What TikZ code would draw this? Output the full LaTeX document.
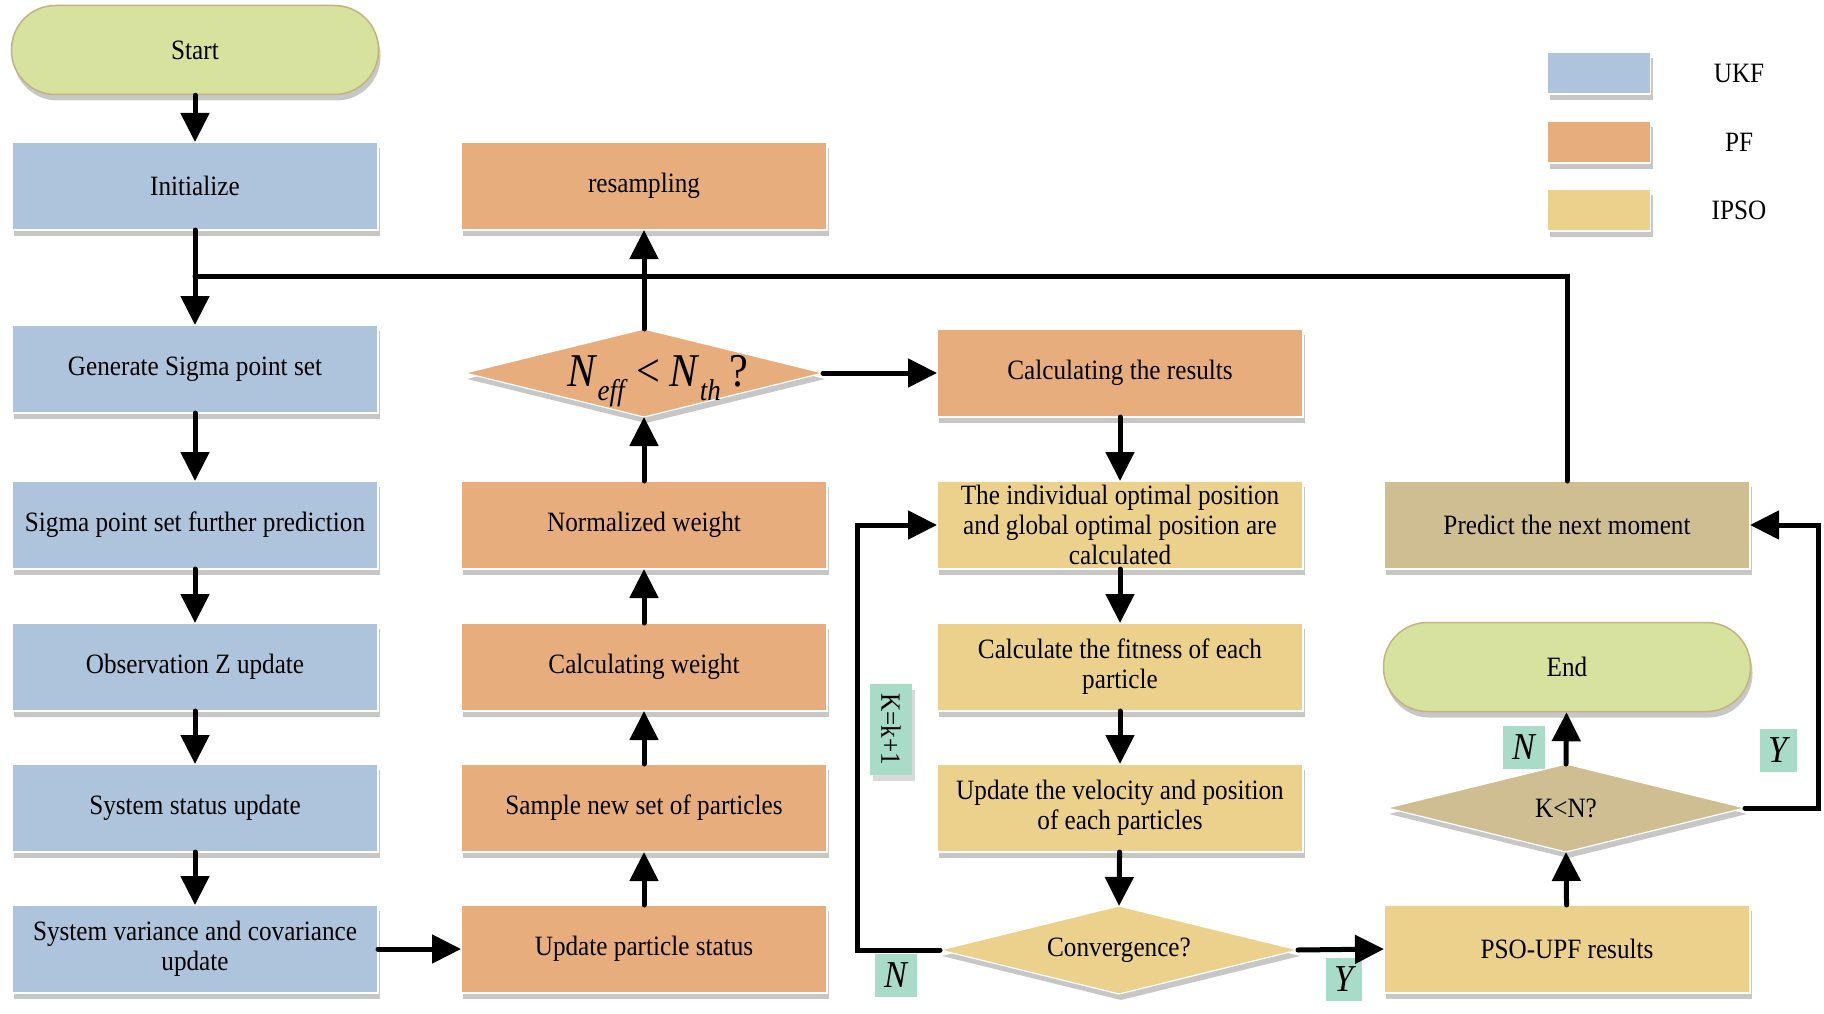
\documentclass[tikz,border=0pt]{standalone}
\usepackage{fontspec}
\setmainfont{Liberation Serif}[FakeStretch=0.9]
\usetikzlibrary{arrows.meta,shapes.geometric,shadows}
\definecolor{ukf}{HTML}{AEC4DC}
\definecolor{pf}{HTML}{E8AD7C}
\definecolor{ipso}{HTML}{ECD18D}
\definecolor{tan}{HTML}{CFBE92}
\definecolor{term}{HTML}{D6E29D}
\definecolor{termline}{HTML}{C2B37F}
\definecolor{mint}{HTML}{A8DCC8}
\begin{document}
\begin{tikzpicture}[x=1pt,y=-1pt,
  font=\fontsize{28}{30}\selectfont,
  shade/.style={drop shadow={shadow xshift=2pt,shadow yshift=-6pt,opacity=0.22,fill=black}},
  box/.style={rectangle,minimum width=366pt,minimum height=88pt,inner sep=2pt,outer sep=0pt,
    align=center,draw=white,line width=1.2pt,shade},
  dia/.style={diamond,minimum width=358pt,minimum height=88pt,inner sep=0pt,outer sep=0pt,
    draw=white,line width=1.2pt,shade},
  term/.style={rectangle,rounded corners=44pt,minimum width=367pt,minimum height=89pt,
    fill=term,draw=termline,line width=1.5pt,shade},
  legbox/.style={rectangle,minimum width=103pt,minimum height=42pt,draw=white,line width=1.2pt,shade},
  tag/.style={fill=mint,inner sep=0pt,minimum width=42pt,minimum height=43pt,
    font=\fontsize{38}{40}\selectfont\itshape},
  ln/.style={line width=5pt,line cap=round},
  arr/.style={ln,-{Triangle[length=29pt,width=28pt]}}
]
\useasboundingbox (0,0) rectangle (1824,1014);
\fill[white] (0,0) rectangle (1824,1014);

% column 1
\node[term] (start) at (195,50) {Start};
\node[box,fill=ukf] (init) at (195,186) {Initialize};
\node[box,fill=ukf] (gen) at (195,369) {Generate Sigma point set};
\node[box,fill=ukf] (spred) at (195,525) {Sigma point set further prediction};
\node[box,fill=ukf] (obs) at (195,667) {Observation Z update};
\node[box,fill=ukf] (sys) at (195,808) {System status update};
\node[box,fill=ukf] (svc) at (195,949) {System variance and covariance\\update};

% column 2
\node[box,fill=pf] (resamp) at (644,186) {resampling};
\node[dia,fill=pf,label={[xshift=14pt,yshift=-8pt]center:{\fontsize{47}{50}\selectfont\textit{N}\raisebox{-14pt}{\fontsize{30}{30}\selectfont\textit{eff}}\hspace{9pt}<\hspace{9pt}\textit{N}\raisebox{-14pt}{\fontsize{30}{30}\selectfont\textit{th}}\hspace{9pt}?}}] (neff) at (644,373) {};
\node[box,fill=pf] (nw) at (644,525) {Normalized weight};
\node[box,fill=pf] (cw) at (644,667) {Calculating weight};
\node[box,fill=pf] (samp) at (644,808) {Sample new set of particles};
\node[box,fill=pf] (ups) at (644,949) {Update particle status};

% column 3
\node[box,fill=pf] (cres) at (1120,373) {Calculating the results};
\node[box,fill=ipso] (indiv) at (1120,525) {The individual optimal position\\and global optimal position are\\calculated};
\node[box,fill=ipso] (fit) at (1120,667) {Calculate the fitness of each\\particle};
\node[box,fill=ipso] (vel) at (1120,808) {Update the velocity and position\\of each particles};
\node[dia,fill=ipso,label=center:{Convergence?}] (conv) at (1119,950) {};

% column 4
\node[box,fill=tan] (pred) at (1567,525) {Predict the next moment};
\node[term] (end) at (1567,667) {End};
\node[dia,fill=tan,label=center:{K<N?}] (kn) at (1566,808) {};
\node[box,fill=ipso] (pso) at (1567,949) {PSO-UPF results};

% legend
\node[legbox,fill=ukf] (lukf) at (1599,73) {};
\node[legbox,fill=pf] (lpf) at (1599,142) {};
\node[legbox,fill=ipso] (lipso) at (1599,210) {};
\node (tukf) at (1739,73) {UKF};
\node (tpf) at (1739,142) {PF};
\node (tipso) at (1739,210) {IPSO};

% tags
\node[tag] (tn1) at (896,975) {N};
\node[tag,rotate=-90,minimum width=91pt,minimum height=42pt,font=\fontsize{28}{30}\selectfont,
  drop shadow={shadow xshift=3pt,shadow yshift=-6pt,opacity=0.15,fill=black}] (tk) at (891,729) {K=k+1};
\node[tag,minimum width=36pt] (ty1) at (1344,979) {Y};
\node[tag] (tn2) at (1524,747) {N};
\node[tag,minimum width=37pt] (ty2) at (1778,750) {Y};

% connectors
\coordinate (j) at (195,276);
\draw[arr] (start) -- (init);
\draw[arr] (init) -- (gen);
\draw[ln] (pred.north) |- (j);
\draw[arr] (gen) -- (spred);
\draw[arr] (spred) -- (obs);
\draw[arr] (obs) -- (sys);
\draw[arr] (sys) -- (svc);
\draw[arr] (svc) -- (ups);
\draw[arr] (ups) -- (samp);
\draw[arr] (samp) -- (cw);
\draw[arr] (cw) -- (nw);
\draw[arr] (nw) -- (neff.south);
\draw[arr] (neff.north) -- (resamp);
\draw[arr] (neff.east) -- (cres.west);
\draw[arr] (cres) -- (indiv);
\draw[arr] (indiv) -- (fit);
\draw[arr] (fit) -- (vel);
\draw[arr] (vel) -- (conv.north);
\draw[arr] (conv.west) -- ++(-83,0) |- (indiv.west);
\draw[arr] (conv.east) -- (pso.west);
\draw[arr] (pso) -- (kn.south);
\draw[arr] (kn.north) -- (end);
\draw[arr] (kn.east) -- ++(73,0) |- (pred.east);
\end{tikzpicture}
\end{document}
